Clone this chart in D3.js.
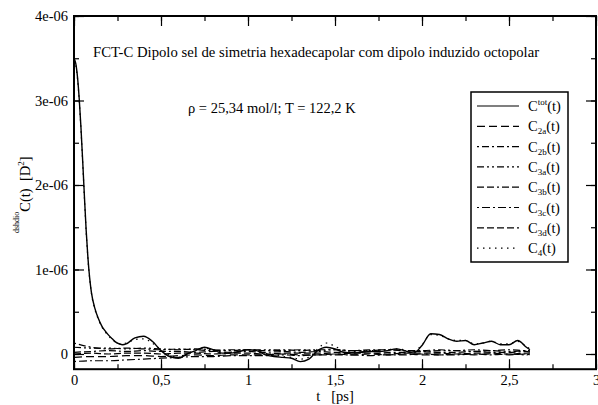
<!DOCTYPE html>
<html lang="en">
<head>
<meta charset="UTF-8" />
<title>FCT-C Dipolo</title>
<script src="https://d3js.org/d3.v7.min.js"></script>
<style>
    body { margin: 0; background: #fff; }
    svg text { font-family: "Liberation Serif", "Times New Roman", serif; fill: #000; }
</style>
</head>
<body>
<svg id="chart" width="598" height="405"></svg>
<script>
    // values in units of 1e-6 D^2
    var tMain = [0, 0.01, 0.02, 0.03, 0.04, 0.05, 0.06, 0.07, 0.08, 0.09, 0.10,
        0.12, 0.14, 0.16, 0.18, 0.20, 0.22, 0.24, 0.26, 0.28, 0.30,
        0.35, 0.40, 0.45, 0.50, 0.55, 0.60, 0.65, 0.70, 0.75, 0.80, 0.85, 0.90, 0.95,
        1.00, 1.05, 1.10, 1.15, 1.20, 1.25, 1.30, 1.35, 1.40, 1.45, 1.50, 1.55, 1.60,
        1.65, 1.70, 1.75, 1.80, 1.85, 1.90, 1.95, 2.00, 2.05, 2.10, 2.15, 2.20, 2.25,
        2.30, 2.35, 2.40, 2.45, 2.50, 2.55, 2.60, 2.62];
    var cTot = [3.50, 3.44, 3.28, 3.02, 2.68, 2.28, 1.86, 1.46, 1.14, 0.90, 0.73,
        0.54, 0.42, 0.33, 0.27, 0.22, 0.18, 0.14, 0.12, 0.11, 0.12,
        0.19, 0.21, 0.15, 0.04, -0.03, -0.05, 0.00, 0.04, 0.08, 0.05, 0.01, 0.01, 0.03,
        0.05, 0.04, -0.01, -0.03, -0.04, -0.05, -0.09, -0.06, 0.04, 0.08, 0.06, 0.02, 0.01,
        0.02, 0.03, 0.03, 0.04, 0.06, 0.04, 0.01, 0.10, 0.24, 0.23, 0.18, 0.15, 0.16,
        0.11, 0.13, 0.15, 0.11, 0.11, 0.16, 0.08, 0.05];
    var c4 = [3.48, 3.42, 3.26, 3.00, 2.66, 2.26, 1.84, 1.45, 1.13, 0.89, 0.72,
        0.53, 0.41, 0.32, 0.26, 0.21, 0.17, 0.14, 0.12, 0.12, 0.13,
        0.17, 0.18, 0.13, 0.05, -0.01, -0.04, 0.00, 0.05, 0.07, 0.05, 0.02, 0.02, 0.04,
        0.05, 0.04, 0.01, -0.01, -0.03, -0.04, -0.06, -0.04, 0.06, 0.13, 0.09, 0.04, 0.03,
        0.04, 0.04, 0.04, 0.05, 0.06, 0.05, 0.03, 0.11, 0.23, 0.22, 0.18, 0.16, 0.16,
        0.12, 0.13, 0.15, 0.12, 0.12, 0.15, 0.09, 0.06];

    var tMinor = [0, 0.1, 0.2, 0.3, 0.4, 0.5, 0.6, 0.7, 0.8, 0.9, 1.0, 1.1, 1.2, 1.3,
        1.4, 1.5, 1.6, 1.7, 1.8, 1.9, 2.0, 2.1, 2.2, 2.3, 2.4, 2.5, 2.6, 2.62];
    var c2a = [-0.04, -0.03, -0.03, -0.02, -0.02, -0.03, -0.02, -0.01, -0.02, -0.01, -0.01, -0.01, 0.00, -0.01,
        -0.01, 0.00, -0.01, 0.00, -0.01, 0.00, -0.01, -0.01, 0.00, -0.01, 0.00, -0.01, 0.00, -0.01];
    var c2b = [0.13, 0.08, 0.06, 0.07, 0.06, 0.05, 0.06, 0.05, 0.04, 0.05, 0.05, 0.04, 0.05, 0.04,
        0.05, 0.05, 0.04, 0.05, 0.05, 0.04, 0.04, 0.05, 0.04, 0.05, 0.04, 0.05, 0.04, 0.04];
    var c3a = [0.08, 0.07, 0.07, 0.06, 0.07, 0.06, 0.05, 0.06, 0.05, 0.04, 0.05, 0.05, 0.04, 0.05,
        0.04, 0.05, 0.04, 0.04, 0.05, 0.04, 0.03, 0.04, 0.04, 0.03, 0.04, 0.03, 0.04, 0.03];
    var c3b = [0.02, 0.03, 0.04, 0.03, 0.04, 0.03, 0.03, 0.02, 0.03, 0.02, 0.03, 0.02, 0.03, 0.02,
        0.03, 0.02, 0.02, 0.03, 0.02, 0.02, 0.03, 0.02, 0.02, 0.03, 0.02, 0.02, 0.03, 0.02];
    var c3c = [-0.09, -0.08, -0.08, -0.07, -0.06, -0.05, -0.04, -0.03, -0.03, -0.02, -0.02, -0.02, -0.01, -0.02,
        -0.01, -0.01, -0.01, -0.02, -0.01, -0.01, 0.00, -0.01, -0.01, 0.00, -0.01, 0.00, -0.01, 0.00];
    var c3d = [0.00, 0.01, 0.00, 0.01, 0.01, 0.00, 0.01, 0.01, 0.00, 0.01, 0.01, 0.00, 0.01, 0.01,
        0.01, 0.00, 0.01, 0.01, 0.00, 0.01, 0.01, 0.01, 0.00, 0.01, 0.01, 0.00, 0.01, 0.01];

    var xTicks = [0, 0.5, 1, 1.5, 2, 2.5, 3];
    var xTickLabels = ["0", "0,5", "1", "1,5", "2", "2,5", "3"];
    var yTicks = [0, 1, 2, 3, 4];
    var yTickLabels = ["0", "1e-06", "2e-06", "3e-06", "4e-06"];

    var svg = d3.select("#chart");

    var x = d3.scaleLinear().domain([0, 3]).range([74, 596]);
    var y = d3.scaleLinear().domain([-0.18, 4]).range([369.2, 16]);

    // series: name, times, values, dash pattern
    var series = [
        { name: "tot", t: tMain, v: cTot, dash: null },
        { name: "2a", t: tMinor, v: c2a, dash: "8,4" },
        { name: "2b", t: tMinor, v: c2b, dash: "2,3,7,3" },
        { name: "3a", t: tMinor, v: c3a, dash: "7,3,2,3,2,3" },
        { name: "3b", t: tMinor, v: c3b, dash: "7,3,7,3,2,3" },
        { name: "3c", t: tMinor, v: c3c, dash: "2,3,8,3" },
        { name: "3d", t: tMinor, v: c3d, dash: "7,3" },
        { name: "4", t: tMain, v: c4, dash: "1.5,4.5" }
    ];

    var line = d3.line()
        .x(d => x(d[0]))
        .y(d => y(d[1]))
        .curve(d3.curveMonotoneX);

    // draw minor components first, main curves on top
    [1, 2, 3, 4, 5, 6, 0, 7].forEach(function (k) {
        var s = series[k];
        svg.append("path")
            .datum(s.t.map((t, i) => [t, s.v[i]]))
            .attr("d", line)
            .attr("fill", "none")
            .attr("stroke", "#000")
            .attr("stroke-width", k === 0 ? 1.4 : 1.2)
            .attr("stroke-dasharray", s.dash);
    });

    // axes: ticks pointing inward on all four sides
    var minorX = d3.range(0, 3.01, 0.25);
    var minorY = d3.range(0, 4.01, 0.5);

    function styleAxis(g) {
        g.select(".domain").remove();
        g.selectAll("line").attr("stroke", "#000").attr("stroke-width", 1.2);
        g.selectAll("text").attr("font-size", 14.5);
    }

    svg.append("g").attr("transform", "translate(0,369.2)")
        .call(d3.axisBottom(x).tickValues(minorX).tickSize(-5).tickFormat(""))
        .call(styleAxis);
    svg.append("g").attr("transform", "translate(0,369.2)")
        .call(d3.axisBottom(x).tickValues(xTicks).tickSize(-10).tickPadding(6)
            .tickFormat((d, i) => xTickLabels[i]))
        .call(styleAxis);
    svg.append("g").attr("transform", "translate(0,16)")
        .call(d3.axisTop(x).tickValues(minorX).tickSize(-5).tickFormat(""))
        .call(styleAxis);
    svg.append("g").attr("transform", "translate(0,16)")
        .call(d3.axisTop(x).tickValues(xTicks).tickSize(-10).tickFormat(""))
        .call(styleAxis);

    svg.append("g").attr("transform", "translate(74,0)")
        .call(d3.axisLeft(y).tickValues(minorY).tickSize(-5).tickFormat(""))
        .call(styleAxis);
    svg.append("g").attr("transform", "translate(74,0)")
        .call(d3.axisLeft(y).tickValues(yTicks).tickSize(-10).tickPadding(6)
            .tickFormat((d, i) => yTickLabels[i]))
        .call(styleAxis);
    svg.append("g").attr("transform", "translate(596,0)")
        .call(d3.axisRight(y).tickValues(minorY).tickSize(-5).tickFormat(""))
        .call(styleAxis);
    svg.append("g").attr("transform", "translate(596,0)")
        .call(d3.axisRight(y).tickValues(yTicks).tickSize(-10).tickFormat(""))
        .call(styleAxis);

    // frame
    svg.append("rect")
        .attr("x", 74).attr("y", 16)
        .attr("width", 522).attr("height", 353.2)
        .attr("fill", "none").attr("stroke", "#000").attr("stroke-width", 2);

    // texts inside the plot
    svg.append("text").attr("x", 93).attr("y", 57).attr("font-size", 14.7)
        .text("FCT-C Dipolo sel de simetria hexadecapolar com dipolo induzido octopolar");
    svg.append("text").attr("x", 188).attr("y", 113).attr("font-size", 14.5)
        .text("ρ = 25,34 mol/l; T = 122,2 K");

    // axis titles
    svg.append("text").attr("x", 335).attr("y", 401).attr("font-size", 14.5)
        .attr("text-anchor", "middle").attr("xml:space", "preserve")
        .text("t   [ps]");

    var yl = svg.append("text")
        .attr("transform", "translate(30,233) rotate(-90)")
        .attr("font-size", 14.5)
        .attr("xml:space", "preserve");
    yl.append("tspan").attr("font-size", 8).attr("dy", -11).text("dshdio");
    yl.append("tspan").attr("dy", 11).text("C(t)  [D");
    yl.append("tspan").attr("font-size", 9).attr("dy", -6).text("2");
    yl.append("tspan").attr("dy", 6).text("]");

    // legend
    var lg = svg.append("g");
    lg.append("rect")
        .attr("x", 471).attr("y", 92).attr("width", 97).attr("height", 170)
        .attr("fill", "#fff").attr("stroke", "#000").attr("stroke-width", 1.5);

    series.forEach(function (s, i) {
        var yy = 106 + i * 20.3;
        lg.append("line")
            .attr("x1", 477).attr("x2", 519).attr("y1", yy).attr("y2", yy)
            .attr("stroke", "#000").attr("stroke-width", 1.2)
            .attr("stroke-dasharray", s.dash);
        var tx = lg.append("text").attr("x", 528).attr("y", yy + 5).attr("font-size", 14.5);
        tx.append("tspan").text("C");
        if (s.name === "tot") {
            tx.append("tspan").attr("font-size", 9).attr("dy", -6).text(s.name);
            tx.append("tspan").attr("dy", 6).text("(t)");
        } else {
            tx.append("tspan").attr("font-size", 9).attr("dy", 3).text(s.name);
            tx.append("tspan").attr("dy", -3).text("(t)");
        }
    });
</script>
</body>
</html>
